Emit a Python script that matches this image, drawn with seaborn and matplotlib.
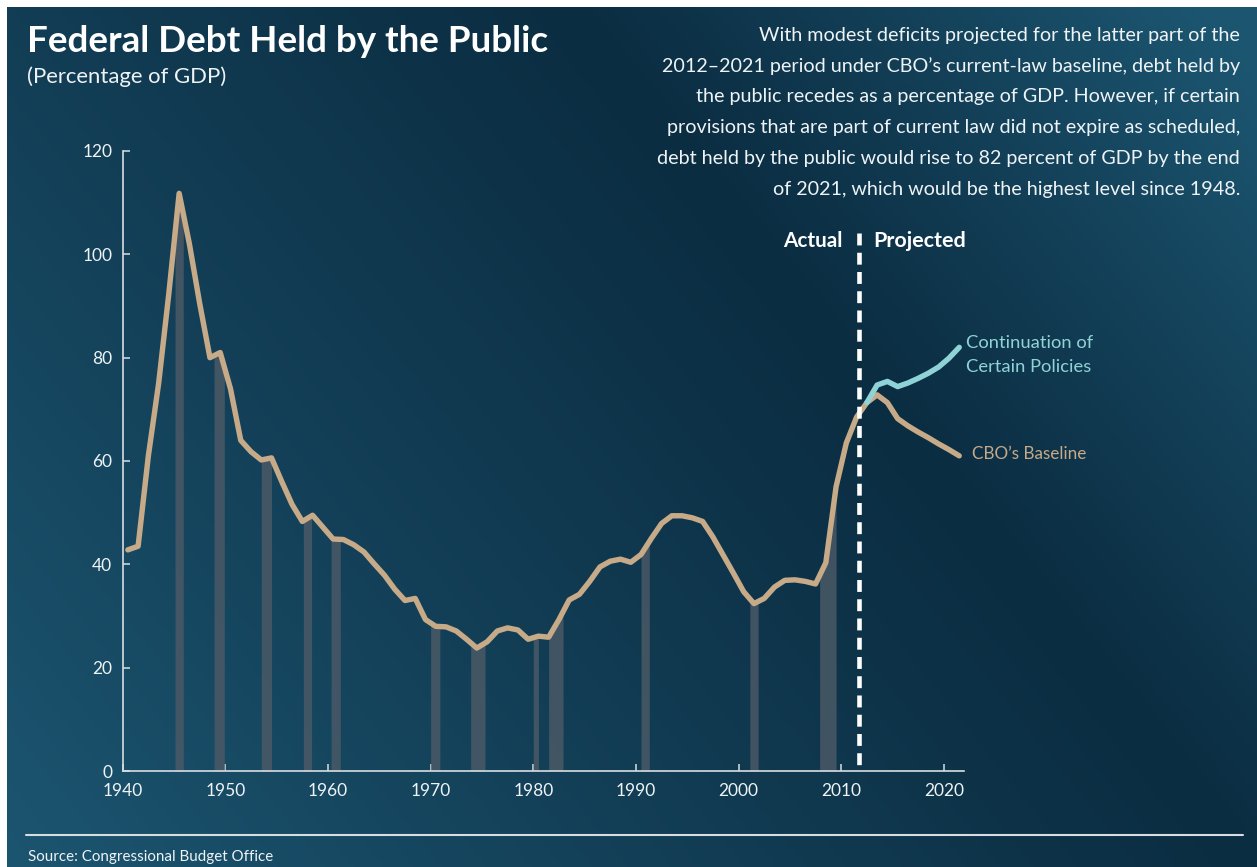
import numpy as np
import pandas as pd
import matplotlib
matplotlib.use("Agg")
import matplotlib.pyplot as plt
import seaborn as sns
from matplotlib.colors import to_rgb

# ---------------------------------------------------------------- data
years_actual = list(range(1940, 2012))
debt_actual = [
    42.8, 43.5, 61.0, 75.0, 92.5, 111.8, 102.0, 90.5, 80.0, 81.0,   # 1940s
    74.0, 64.0, 61.8, 60.2, 60.6, 56.0, 51.6, 48.3, 49.5, 47.2,     # 1950s
    44.9, 44.8, 43.8, 42.4, 40.1, 37.9, 35.2, 33.0, 33.4, 29.3,     # 1960s
    28.0, 27.9, 27.1, 25.5, 23.8, 25.0, 27.1, 27.7, 27.3, 25.5,     # 1970s
    26.1, 25.9, 29.3, 33.1, 34.2, 36.7, 39.5, 40.6, 41.0, 40.4,     # 1980s
    41.9, 45.0, 47.9, 49.4, 49.4, 49.0, 48.3, 45.3, 41.8, 38.3,     # 1990s
    34.7, 32.4, 33.4, 35.6, 36.9, 37.0, 36.7, 36.2, 40.3, 55.0,     # 2000s
    63.5, 68.5,                                                     # 2010-2011
]
years_projected = list(range(2012, 2022))
debt_baseline = [71.3, 72.8, 71.3, 68.2, 66.8, 65.6, 64.5, 63.3, 62.2, 61.0]
debt_policies = [71.3, 74.7, 75.4, 74.4, 75.1, 76.0, 77.0, 78.2, 79.9, 82.0]

recession_start = [1945.1, 1948.9, 1953.5, 1957.6, 1960.3, 1970.0,
                   1973.9, 1980.0, 1981.5, 1990.5, 2001.1, 2007.9]
recession_end = [1945.9, 1949.9, 1954.5, 1958.4, 1961.2, 1970.9,
                 1975.3, 1980.5, 1982.9, 1991.3, 2001.9, 2009.5]

x_ticks = list(range(1940, 2021, 10))
y_ticks = list(range(0, 121, 20))
projection_divide = 2011.7

title = "Federal Debt Held by the Public"
subtitle = "(Percentage of GDP)"
note_lines = [
    "With modest deficits projected for the latter part of the",
    "2012\u20132021 period under CBO\u2019s current-law baseline, debt held by",
    "the public recedes as a percentage of GDP. However, if certain",
    "provisions that are part of current law did not expire as scheduled,",
    "debt held by the public would rise to 82 percent of GDP by the end",
    "of 2021, which would be the highest level since 1948.",
]
source = "Source: Congressional Budget Office"

# ---------------------------------------------------------------- style
TAN = "#c7aa88"
CYAN = "#8fd3d7"
BAR = "#4a5966"
AXIS = "#d6dee2"
TEXT = "#eef3f5"
DARK = np.array(to_rgb("#0b2d42"))
LIGHT = np.array(to_rgb("#1c5570"))

sns.set_theme(style="ticks")
plt.rcParams["font.family"] = ["Lato", "DejaVu Sans"]

W, H = 1257, 867
fig = plt.figure(figsize=(W / 100, H / 100), dpi=100, facecolor="white")


def fx(px):
    return px / W


def fy(py):
    return 1 - py / H


# diagonal navy gradient behind everything
bg = fig.add_axes([fx(7), 0, 1 - fx(7), fy(7)])
bg.set_axis_off()
u, v = np.meshgrid(np.linspace(0, 1, 500), np.linspace(0, 1, 400))
d = u - 0.45 - 0.55 * v
t = np.where(d > 0, d / 0.5, -d / 1.0)
t = np.clip(t, 0, 1) ** 1.1
img = DARK[None, None, :] * (1 - t[..., None]) + LIGHT[None, None, :] * t[..., None]
bg.imshow(img, extent=[0, 1, 0, 1], aspect="auto", origin="upper")
bg.set_xlim(0, 1)
bg.set_ylim(0, 1)

# ---------------------------------------------------------------- chart
x_left, x_right, y_bottom, y_top = 122.7, 964.0, 771.0, 151.0
ax = fig.add_axes([fx(x_left), fy(y_bottom), fx(x_right - x_left),
                   (y_bottom - y_top) / H])
ax.patch.set_alpha(0)
px_per_year = (943.0 - 224.5) / 70.0
ax.set_xlim(1940, 1940 + (x_right - x_left) / px_per_year)
ax.set_ylim(0, 120)

# annual values sit at mid-year
baseline = pd.DataFrame({
    "year": np.array(years_actual + years_projected) + 0.5,
    "debt": debt_actual + debt_baseline,
})
policies = pd.DataFrame({
    "year": np.array(years_projected) + 0.5,
    "debt": debt_policies,
})

# recession bands reaching up to the debt curve
for s, e in zip(recession_start, recession_end):
    xs = np.linspace(s, e, 30)
    ax.fill_between(xs, 0, np.interp(xs, baseline["year"], baseline["debt"]),
                    color=BAR, lw=0, alpha=0.85, zorder=2)

sns.lineplot(data=baseline, x="year", y="debt", ax=ax, color=TAN,
             linewidth=3.9, estimator=None, sort=False, zorder=3,
             solid_capstyle="round", solid_joinstyle="round")
ax.plot([projection_divide, projection_divide], [104.2, 0], color="white",
        lw=3.3, dashes=(2.6, 1.6), dash_capstyle="butt", zorder=4)
sns.lineplot(data=policies, x="year", y="debt", ax=ax, color=CYAN,
             linewidth=3.9, estimator=None, sort=False, zorder=5,
             solid_capstyle="round", solid_joinstyle="round")

ax.set_xlabel("")
ax.set_ylabel("")
ax.set_xticks(x_ticks)
ax.set_yticks(y_ticks)
for side in ("top", "right"):
    ax.spines[side].set_visible(False)
for side in ("left", "bottom"):
    ax.spines[side].set_color(AXIS)
    ax.spines[side].set_linewidth(1.2)
ax.tick_params(direction="in", length=5, width=1.1, color=AXIS,
               labelcolor=TEXT, labelsize=12.5)
ax.tick_params(axis="x", pad=9)
ax.tick_params(axis="y", pad=7.5)

# ---------------------------------------------------------------- text
renderer = fig.canvas.get_renderer()


def fit(txt, width_px):
    w = txt.get_window_extent(renderer).width
    txt.set_fontsize(txt.get_fontsize() * width_px / w)
    return txt


fit(fig.text(fx(27), fy(42), title, color="white", fontsize=28,
             fontweight="bold", ha="left", va="center"), 522)
fit(fig.text(fx(27), fy(77), subtitle, color=TEXT, fontsize=14,
             ha="left", va="center"), 200)

note = [fig.text(fx(1240), fy(35 + 30.8 * i), line, color=TEXT, fontsize=13,
                 ha="right", va="center") for i, line in enumerate(note_lines)]
fit(note[3], 572)
for n in note:
    n.set_fontsize(note[3].get_fontsize())

fit(fig.text(fx(842), fy(241), "Actual", color="white", fontsize=14,
             fontweight="bold", ha="right", va="center"), 60)
fit(fig.text(fx(873), fy(241), "Projected", color="white", fontsize=14,
             fontweight="bold", ha="left", va="center"), 93)

cont = fit(fig.text(fx(966), fy(343), "Continuation of", color=CYAN,
                    fontsize=12, ha="left", va="center"), 127)
fig.text(fx(966), fy(367), "Certain Policies", color=CYAN,
         fontsize=cont.get_fontsize(), ha="left", va="center")
fit(fig.text(fx(972), fy(454), "CBO\u2019s Baseline", color=TAN, fontsize=12,
             ha="left", va="center"), 114)

fig.add_artist(plt.Line2D([fx(26), fx(1243)], [fy(835), fy(835)],
                          color=AXIS, lw=1.5, transform=fig.transFigure))
fit(fig.text(fx(28), fy(857), source, color=TEXT, fontsize=10,
             ha="left", va="center"), 245)

fig.savefig("out.png", dpi=100, facecolor=fig.get_facecolor())
